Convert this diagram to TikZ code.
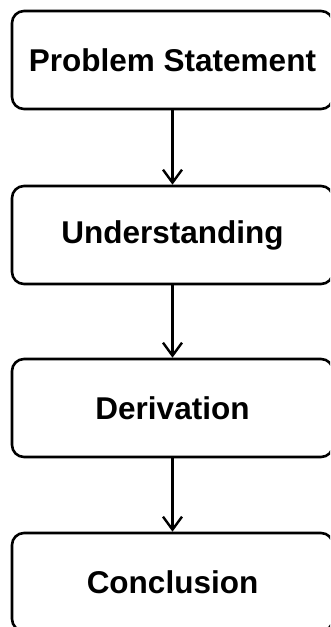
\documentclass[tikz,border=0pt]{standalone}
\usepackage{fontspec}
\setmainfont{Liberation Sans}
\usetikzlibrary{arrows.meta}
\begin{document}
\begin{tikzpicture}[x=1pt,y=-1pt,
  stepbox/.style={draw=black, line width=2.6pt, rounded corners=12pt, fill=white,
    minimum width=321pt, minimum height=98pt, inner sep=0pt,
    font=\fontsize{31.5}{36}\selectfont\bfseries, text=black},
  flow/.style={line width=2.4pt, -{Straight Barb[length=13pt,width=19pt,line width=2.4pt]}}]
\useasboundingbox (0,0) rectangle (330,627);
\clip (0,0) rectangle (330,627);
\node[stepbox] (ps) at (172.5,60) {Problem Statement};
\node[stepbox] (un) at (172.5,235) {Understanding};
\node[stepbox] (de) at (172.5,408) {Derivation};
\node[stepbox] (co) at (172.5,582) {Conclusion};
\draw[flow] (ps) -- (un);
\draw[flow] (un) -- (de);
\draw[flow] (de) -- (co);
\end{tikzpicture}
\end{document}
